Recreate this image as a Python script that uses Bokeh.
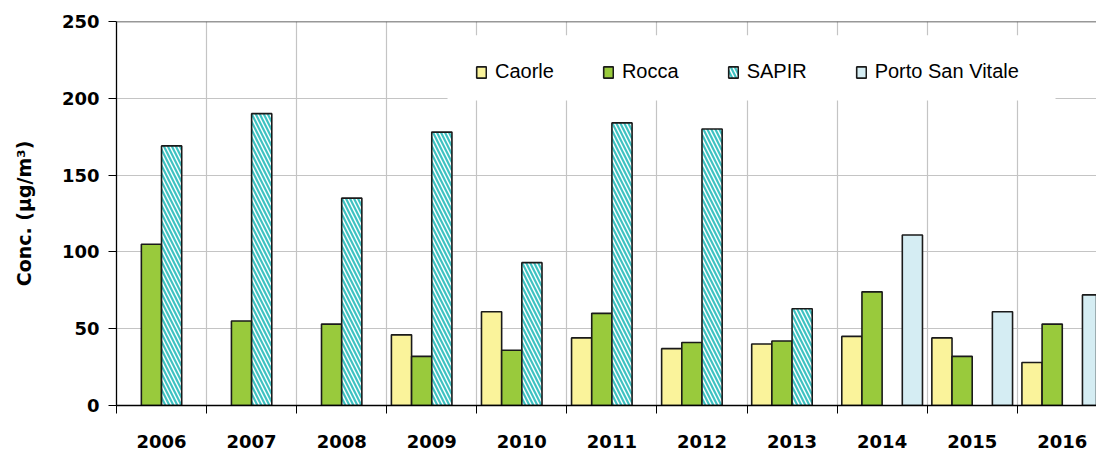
from bokeh.plotting import figure
from bokeh.models import (ColumnDataSource, Range1d, FixedTicker, Legend, LegendItem, Span, BoxAnnotation)
from bokeh.embed import file_html
from bokeh.resources import INLINE

years = ["2006", "2007", "2008", "2009", "2010", "2011", "2012", "2013", "2014", "2015", "2016"]
caorle = [None, None, None, 46, 61, 44, 37, 40, 45, 44, 28]
rocca = [105, 55, 53, 32, 36, 60, 41, 42, 74, 32, 53]
sapir = [169, 190, 135, 178, 93, 184, 180, 63, None, None, None]
porto = [None, None, None, None, None, None, None, None, 111, 61, 72]
y_ticks = [0, 50, 100, 150, 200, 250]

series = [
    ("Caorle", caorle, dict(fill_color="#FAF39B")),
    ("Rocca", rocca, dict(fill_color="#99CA3C")),
    ("SAPIR", sapir, dict(fill_color="white", hatch_pattern="\\", hatch_color="#3EC2C2",
                          hatch_scale=8, hatch_weight=2.2)),
    ("Porto San Vitale", porto, dict(fill_color="#D5EDF3")),
]

W = 0.224
offsets = [-1.5 * W, -0.5 * W, 0.5 * W, 1.5 * W]

p = figure(width=1096, height=451, output_backend="svg", toolbar_location=None,
           x_range=Range1d(0, 10.88), y_range=Range1d(0, 250),
           min_border_left=116, min_border_right=0, min_border_top=21, min_border_bottom=46)
p.outline_line_color = None
p.background_fill_color = "white"

# white background behind the legend (hides grid lines there)
p.add_layout(BoxAnnotation(left=3.675, right=10.425, bottom=198.5, top=241,
                           fill_color="white", fill_alpha=1.0, line_color=None, level="underlay"))

items = []
for (name, vals, style), off in zip(series, offsets):
    xs = [i + 0.5 + off for i, v in enumerate(vals) if v is not None]
    ys = [v for v in vals if v is not None]
    src = ColumnDataSource(dict(x=xs, top=ys))
    r = p.vbar(x="x", top="top", width=W, bottom=0, source=src,
               line_color="#1a1a1a", line_width=1.6, **style)
    items.append(LegendItem(label=name, renderers=[r]))

# top border line
p.add_layout(Span(location=250, dimension="width", line_color="#333333", line_width=1.6))

# x axis: labels at centers, ticks at category boundaries
centers = [i + 0.5 for i in range(len(years))]
bounds = [float(i) for i in range(len(years) + 1)]
xt = FixedTicker(ticks=centers, minor_ticks=bounds)
p.xaxis.ticker = xt
p.xaxis.major_label_overrides = {c: y for c, y in zip(centers, years)}
p.xaxis.major_tick_out = 0
p.xaxis.major_tick_in = 0
p.xaxis.minor_tick_out = 8
p.xaxis.minor_tick_in = 0
p.xaxis.minor_tick_line_color = "black"
p.xaxis.axis_line_color = "black"
p.xaxis.axis_line_width = 1.3
p.xaxis.major_label_standoff = 21
p.xaxis.major_label_text_font = "DejaVu Sans"
p.xaxis.major_label_text_font_style = "bold"
p.xaxis.major_label_text_font_size = "18px"
p.xaxis.major_label_text_color = "black"

p.xgrid.ticker = xt
p.xgrid.grid_line_color = None
p.xgrid.minor_grid_line_color = "#C4C4C4"
p.xgrid.minor_grid_line_width = 1.2

# y axis
yt = FixedTicker(ticks=y_ticks, minor_ticks=[])
p.yaxis.ticker = yt
p.yaxis.major_tick_out = 8
p.yaxis.major_tick_in = 0
p.yaxis.minor_tick_out = 0
p.yaxis.axis_line_color = "black"
p.yaxis.axis_line_width = 1.3
p.yaxis.major_tick_line_color = "black"
p.yaxis.major_label_standoff = 9
p.yaxis.major_label_text_font = "DejaVu Sans"
p.yaxis.major_label_text_font_style = "bold"
p.yaxis.major_label_text_font_size = "18px"
p.yaxis.major_label_text_color = "black"
p.yaxis.axis_label = "Conc. (µg/m³)"
p.yaxis.axis_label_text_font = "DejaVu Sans"
p.yaxis.axis_label_text_font_style = "bold"
p.yaxis.axis_label_text_font_size = "19px"
p.yaxis.axis_label_text_color = "black"
p.yaxis.axis_label_standoff = 24

p.ygrid.ticker = FixedTicker(ticks=[50, 100, 150, 200])
p.ygrid.grid_line_color = "#C4C4C4"
p.ygrid.grid_line_width = 1.2

legend = Legend(items=items, orientation="horizontal", location=(359, 322),
                background_fill_alpha=0.0,
                border_line_color=None, padding=0, spacing=48,
                glyph_width=12, glyph_height=14, label_standoff=8,
                label_text_font="Liberation Sans", label_text_font_size="20px",
                label_text_color="black", margin=0)
p.add_layout(legend, "center")

open("out.html", "w").write(file_html(p, INLINE))
